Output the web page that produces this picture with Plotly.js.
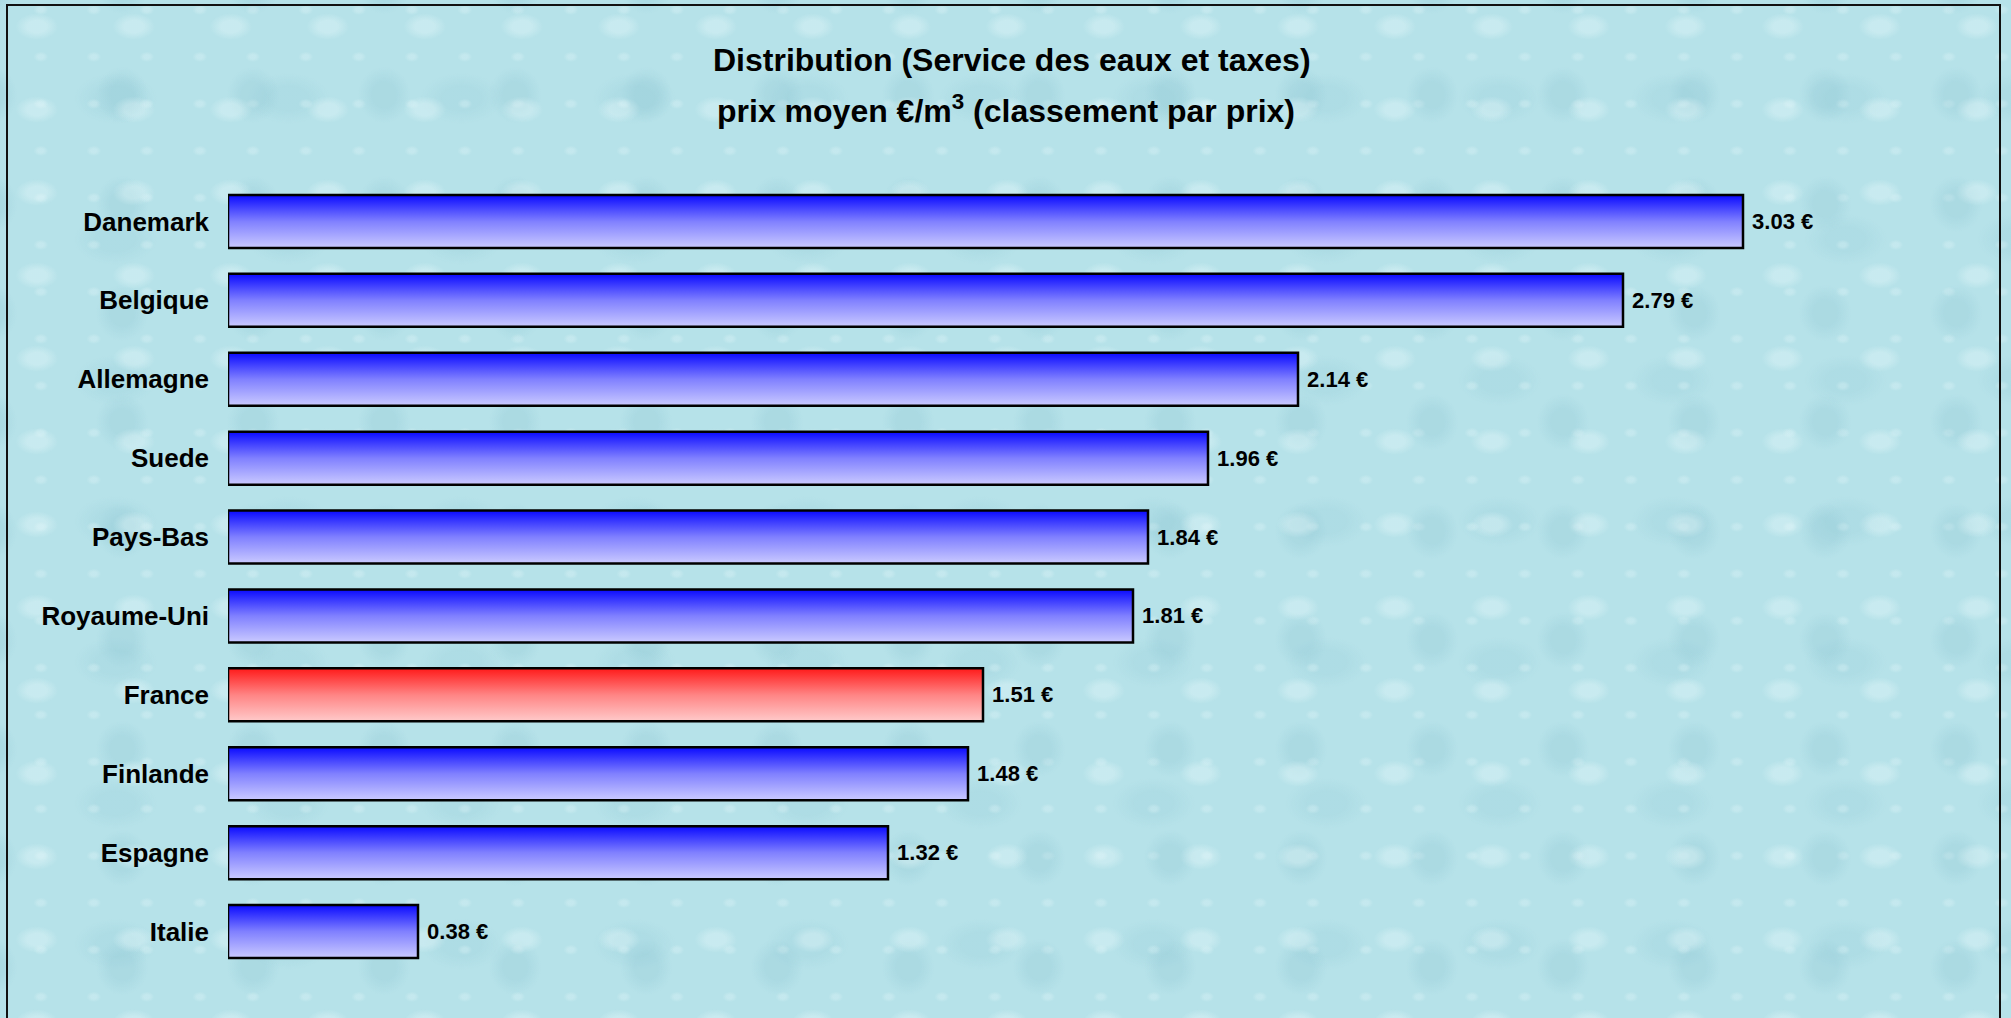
<!DOCTYPE html>
<html>
<head>
<meta charset="utf-8">
<script src="https://cdn.plot.ly/plotly-3.0.1.min.js"></script>
<style>
  html, body { margin: 0; padding: 0; }
  body {
    width: 2011px; height: 1018px; overflow: hidden; position: relative;
    background-color: #b6e2e9;
    background-image:
      radial-gradient(ellipse 22% 16% at 38% 32%, rgba(235,250,252,0.35) 0 45%, rgba(235,250,252,0) 100%),
      radial-gradient(ellipse 20% 26% at 62% 66%, rgba(125,185,200,0.20) 0 45%, rgba(125,185,200,0) 100%),
      radial-gradient(ellipse 14% 11% at 45% 55%, rgba(240,252,253,0.25) 0 40%, rgba(240,252,253,0) 100%),
      radial-gradient(ellipse 24% 18% at 28% 62%, rgba(130,190,205,0.16) 0 45%, rgba(130,190,205,0) 100%);
    background-size: 97px 83px, 131px 109px, 53px 47px, 173px 141px;
    background-position: 0 0, 41px 23px, 17px 31px, 67px 11px;
  }
  #frame {
    position: absolute; left: 6px; top: 4px; width: 1995px; height: 1030px;
    border: 2px solid #111; pointer-events: none; box-sizing: border-box;
  }
  #chart { position: absolute; left: 0; top: 0; width: 2011px; height: 1018px; }
</style>
</head>
<body>
<div id="chart"></div>
<div id="frame"></div>
<script>
// ---- data ----
const countries = ["Danemark", "Belgique", "Allemagne", "Suede", "Pays-Bas",
                   "Royaume-Uni", "France", "Finlande", "Espagne", "Italie"];
const prices = [3.03, 2.79, 2.14, 1.96, 1.84, 1.81, 1.51, 1.48, 1.32, 0.38];
const highlighted = "France";
const titleLine1 = "Distribution (Service des eaux et taxes)";
const titleLine2 = "prix moyen €/m<sup>3</sup> (classement par prix)";

const labels = prices.map(v => "\u00a0" + v.toFixed(2) + " €");
const isHighlight = countries.map(c => c === highlighted);

const FONT = "Arial, 'Liberation Sans', Helvetica, sans-serif";

const trace = {
  type: "bar",
  orientation: "h",
  y: countries,
  x: prices,
  text: labels,
  textposition: "outside",
  cliponaxis: false,
  constraintext: "none",
  textfont: { family: FONT, size: 22, color: "#000", weight: "bold" },
  marker: {
    color: isHighlight.map(h => h ? "#ff8080" : "#8080ff"),
    line: { color: "#000", width: 2.5 }
  },
  hoverinfo: "none"
};

const layout = {
  width: 2011,
  height: 1018,
  margin: { l: 228, r: 83, t: 182, b: 47, pad: 0 },
  paper_bgcolor: "rgba(0,0,0,0)",
  plot_bgcolor: "rgba(0,0,0,0)",
  showlegend: false,
  bargap: 0.328,
  xaxis: { range: [0, 3.4], visible: false, fixedrange: true },
  yaxis: {
    type: "category",
    categoryorder: "array",
    categoryarray: countries,
    autorange: "reversed",
    showgrid: false, showline: false, zeroline: false,
    ticks: "",
    ticklabelstandoff: 18,
    tickfont: { family: FONT, size: 26, color: "#000", weight: "bold" },
    fixedrange: true
  },
  annotations: [
    { text: titleLine1, xref: "paper", yref: "paper", x: 0.4612, y: 1.1546,
      xanchor: "center", yanchor: "middle", showarrow: false,
      font: { family: FONT, size: 32, color: "#000", weight: "bold" } },
    { text: titleLine2, xref: "paper", yref: "paper", x: 0.4576, y: 1.0925,
      xanchor: "center", yanchor: "middle", showarrow: false,
      font: { family: FONT, size: 32, color: "#000", weight: "bold" } }
  ]
};

Plotly.newPlot("chart", [trace], layout, { staticPlot: true, displayModeBar: false }).then(gd => {
  const svg = gd.querySelector(".main-svg");
  const NS = "http://www.w3.org/2000/svg";
  let defs = svg.querySelector("defs");
  if (!defs) { defs = document.createElementNS(NS, "defs"); svg.insertBefore(defs, svg.firstChild); }
  function grad(id, top, mid, bottom) {
    const g = document.createElementNS(NS, "linearGradient");
    g.setAttribute("id", id);
    g.setAttribute("x1", "0"); g.setAttribute("y1", "0");
    g.setAttribute("x2", "0"); g.setAttribute("y2", "1");
    [[0, top], [0.5, mid], [1, bottom]].forEach(([o, c]) => {
      const s = document.createElementNS(NS, "stop");
      s.setAttribute("offset", o);
      s.setAttribute("stop-color", c);
      g.appendChild(s);
    });
    defs.appendChild(g);
  }
  grad("gBlue", "#0a0aff", "#8080ff", "#cacaff");
  grad("gRed", "#ff1a1a", "#ff8484", "#ffcaca");
  const paths = gd.querySelectorAll(".barlayer .point path");
  paths.forEach((p, i) => {
    p.style.fill = isHighlight[i] ? "url(#gRed)" : "url(#gBlue)";
  });
});
</script>
</body>
</html>
